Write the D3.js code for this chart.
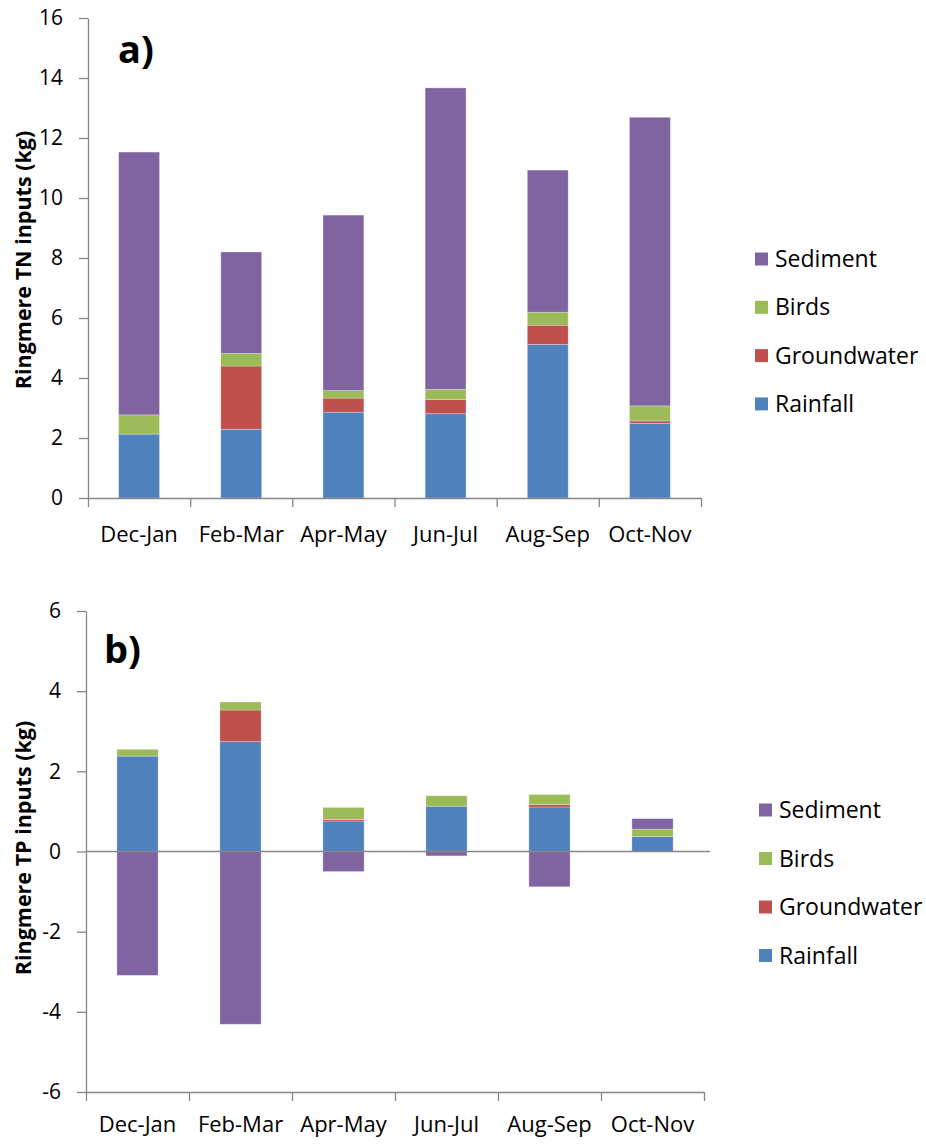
<!DOCTYPE html>
<html lang="en">
<head>
  <meta charset="UTF-8">
  <title>Ringmere TN and TP inputs</title>
  <script src="https://d3js.org/d3.v7.min.js"></script>
  <style>
    body { margin: 0; background: #ffffff; }
    svg { display: block; font-family: 'Open Sans', 'Liberation Sans', sans-serif; }
    .axis path, .axis line { stroke: #868686; stroke-width: 1.3px; }
    .axis text { font-size: 21px; fill: #000; font-family: 'Open Sans', sans-serif; }
    .cat-label { font-size: 22px; fill: #000; }
    .axis-title { font-size: 21.5px; font-weight: 700; fill: #000; }
    .panel-label { font-size: 38px; font-weight: 700; fill: #000; }
    .legend text { font-size: 23px; fill: #000; }
  </style>
</head>
<body>
  <svg id="chart" width="926" height="1144"></svg>

  <script>
    const categories = ["Dec-Jan", "Feb-Mar", "Apr-May", "Jun-Jul", "Aug-Sep", "Oct-Nov"];
    const sources = ["Rainfall", "Groundwater", "Birds", "Sediment"];

    // a) TN inputs (kg)
    const tnRainfall    = [2.13, 2.29, 2.86, 2.81, 5.12, 2.49];
    const tnGroundwater = [0.00, 2.11, 0.47, 0.47, 0.64, 0.08];
    const tnBirds       = [0.64, 0.42, 0.25, 0.34, 0.43, 0.50];
    const tnSediment    = [8.76, 3.38, 5.85, 10.05, 4.74, 9.62];

    // b) TP inputs (kg)
    const tpRainfall    = [2.38, 2.74, 0.76, 1.13, 1.11, 0.37];
    const tpGroundwater = [0.00, 0.79, 0.04, 0.00, 0.06, 0.00];
    const tpBirds       = [0.17, 0.20, 0.30, 0.26, 0.25, 0.19];
    const tpSediment    = [-3.09, -4.31, -0.50, -0.11, -0.88, 0.26];

    const tnTicks = [0, 2, 4, 6, 8, 10, 12, 14, 16];
    const tpTicks = [-6, -4, -2, 0, 2, 4, 6];

    const color = d3.scaleOrdinal()
      .domain(sources)
      .range(["#4f81bd", "#c0504d", "#9bbb59", "#8064a2"]);

    const svg = d3.select("#chart");

    function buildRows(series) {
      return categories.map((c, i) => {
        const row = {cat: c};
        sources.forEach((s, k) => { row[s] = series[k][i]; });
        return row;
      });
    }

    function drawPanel(opt) {
      const rows = buildRows(opt.series);
      const g = svg.append("g");

      const x = d3.scaleBand().domain(categories)
        .range([opt.x0, opt.x1]).paddingInner(0.6).paddingOuter(0.3);
      const y = d3.scaleLinear().domain(d3.extent(opt.ticks)).range([opt.yBottom, opt.yTop]);

      const stacked = d3.stack().keys(sources).offset(d3.stackOffsetDiverging)(rows);

      g.selectAll("g.layer")
        .data(stacked)
        .join("g")
        .attr("class", "layer")
        .attr("fill", d => color(d.key))
        .selectAll("rect")
        .data(d => d)
        .join("rect")
        .attr("x", d => x(d.data.cat))
        .attr("width", x.bandwidth())
        .attr("y", d => y(Math.max(d[0], d[1])))
        .attr("height", d => Math.abs(y(d[0]) - y(d[1])))
        .attr("stroke", "#ffffff")
        .attr("stroke-opacity", 0.35)
        .attr("stroke-width", 0.8);

      // y axis, plain hyphen for negatives like the original
      g.append("g")
        .attr("class", "axis")
        .attr("transform", `translate(${opt.x0},0)`)
        .call(d3.axisLeft(y).tickValues(opt.ticks).tickFormat(d => String(d))
          .tickSize(9).tickSizeOuter(0).tickPadding(16));

      // zero line (only matters for the diverging panel)
      if (y.domain()[0] < 0) {
        g.append("line")
          .attr("x1", opt.x0).attr("x2", opt.x1 + 6)
          .attr("y1", y(0)).attr("y2", y(0))
          .attr("stroke", "#868686").attr("stroke-width", 1.3);
      }

      // category axis with ticks between the bars
      const edges = d3.scaleLinear().domain([0, categories.length]).range([opt.x0, opt.x1]);
      g.append("g")
        .attr("class", "axis")
        .attr("transform", `translate(0,${opt.yBottom})`)
        .call(d3.axisBottom(edges).tickValues(d3.range(categories.length + 1))
          .tickFormat("").tickSize(9).tickSizeOuter(0));

      g.selectAll("text.cat-label")
        .data(categories)
        .join("text")
        .attr("class", "cat-label")
        .attr("x", d => x(d) + x.bandwidth() / 2)
        .attr("y", opt.catY)
        .attr("text-anchor", "middle")
        .text(d => d);

      g.append("text")
        .attr("class", "axis-title")
        .attr("transform", `translate(31,${opt.titleY}) rotate(-90)`)
        .attr("text-anchor", "middle")
        .text(opt.title);

      g.append("text")
        .attr("class", "panel-label")
        .attr("x", opt.labelX).attr("y", opt.labelY)
        .text(opt.label);

      // legend, Sediment on top
      const legend = g.append("g").attr("class", "legend");
      sources.slice().reverse().forEach((s, i) => {
        const cy = opt.legendY + i * opt.legendStep;
        legend.append("rect")
          .attr("x", opt.legendX).attr("y", cy - 6.5)
          .attr("width", 13).attr("height", 13)
          .attr("fill", color(s));
        legend.append("text")
          .attr("x", opt.legendX + 20).attr("y", cy)
          .attr("dy", "0.35em")
          .text(s);
      });
    }

    drawPanel({
      series: [tnRainfall, tnGroundwater, tnBirds, tnSediment],
      ticks: tnTicks,
      x0: 88, x1: 701, yTop: 18, yBottom: 498,
      catY: 542,
      title: "Ringmere TN inputs (kg)", titleY: 260,
      label: "a)", labelX: 118, labelY: 63,
      legendX: 755, legendY: 259, legendStep: 48.3
    });

    drawPanel({
      series: [tpRainfall, tpGroundwater, tpBirds, tpSediment],
      ticks: tpTicks,
      x0: 86, x1: 704, yTop: 611, yBottom: 1092,
      catY: 1132,
      title: "Ringmere TP inputs (kg)", titleY: 848,
      label: "b)", labelX: 104, labelY: 663,
      legendX: 759, legendY: 810, legendStep: 48.5
    });
  </script>
</body>
</html>
